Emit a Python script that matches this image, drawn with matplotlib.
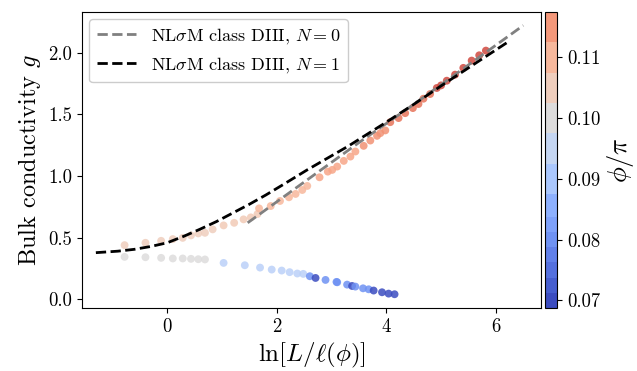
import numpy as np
import matplotlib
matplotlib.use("Agg")
import matplotlib.pyplot as plt
from matplotlib import cm
from matplotlib.colors import Normalize, BoundaryNorm, ListedColormap

plt.rcParams["font.family"] = "serif"
plt.rcParams["font.serif"] = ["cmr10"]
plt.rcParams["mathtext.fontset"] = "cm"
plt.rcParams["axes.unicode_minus"] = False
plt.rcParams["axes.formatter.use_mathtext"] = True

# ===== данные =====
# верхняя ветвь (phi/pi > 0.1)
x_up = [-0.776, -0.395, -0.109, 0.104, 0.285, 0.436, 0.569, 0.691, 0.831,
        1.031, 1.224, 1.395, 1.527, 1.649,
        1.678, 1.891, 2.06, 2.224, 2.345, 2.467, 2.558, 2.782, 2.933, 3.013,
        3.104, 3.224, 3.345, 3.436, 3.587, 3.709, 3.831, 3.891, 3.982,
        4.073, 4.224, 4.345, 4.485, 4.587, 4.678, 4.8, 4.922, 5.0, 5.104,
        5.255, 5.406, 5.558, 5.696, 5.818]
g_up = [0.439, 0.458, 0.474, 0.488, 0.498, 0.518, 0.534, 0.539, 0.567,
        0.599, 0.620, 0.648, 0.664, 0.691,
        0.737, 0.756, 0.797, 0.827, 0.854, 0.886, 0.919, 0.989, 1.035, 1.049,
        1.076, 1.122, 1.157, 1.198, 1.244, 1.287, 1.325, 1.347, 1.369,
        1.436, 1.469, 1.509, 1.550, 1.583, 1.626, 1.664, 1.713, 1.734, 1.772,
        1.821, 1.876, 1.935, 1.978, 2.016]
phi_up = [0.105] * 9 + [0.106] * 5 + [0.110] * 7 + [0.113] * 7 + [0.116] * 5 \
    + [0.120] * 7 + [0.125] * 8

# нижняя ветвь (phi/pi <= 0.1)
x_lo = [-0.776, -0.395, -0.109, 0.104, 0.285, 0.436, 0.569, 0.691,
        1.031, 1.418, 1.696, 1.909, 2.091, 2.236, 2.376, 2.485,
        2.605, 2.709, 2.891, 3.091, 3.104, 3.285, 3.376, 3.436, 3.576,
        3.678, 3.769, 3.922, 4.042, 4.151]
g_lo = [0.344, 0.341, 0.336, 0.331, 0.331, 0.328, 0.325, 0.323,
        0.295, 0.276, 0.257, 0.241, 0.233, 0.220, 0.209, 0.206,
        0.187, 0.173, 0.157, 0.141, 0.138, 0.119, 0.108, 0.103, 0.089,
        0.081, 0.071, 0.057, 0.046, 0.041]
phi_lo = [0.100] * 8 + [0.093] * 8 + [0.080, 0.070, 0.080, 0.080, 0.080,
                                      0.080, 0.070, 0.080, 0.080, 0.080,
                                      0.070, 0.070, 0.070, 0.070]

# NLsM, N = 0
x_n0 = [1.47, 2.5, 3.5, 4.5, 5.5, 6.5]
g_n0 = [0.62, 0.95, 1.27, 1.58, 1.90, 2.22]

# NLsM, N = 1
x_n1 = [-1.3, -0.9, -0.6, -0.3, 0.0, 0.3, 0.6, 0.9, 1.2, 1.5, 1.8, 2.1,
        2.56, 3.3, 3.98, 4.5, 5.0, 5.53, 6.2]
g_n1 = [0.378, 0.39, 0.405, 0.428, 0.458, 0.51, 0.568, 0.63, 0.70, 0.77,
        0.845, 0.925, 1.05, 1.24, 1.43, 1.58, 1.73, 1.885, 2.08]

# значения phi/pi для цветовой шкалы
phi_levels = [0.07, 0.0725, 0.075, 0.0775, 0.08, 0.0825, 0.085, 0.09, 0.095,
              0.10, 0.105, 0.11, 0.115]
phi_edges = [0.06875, 0.07125, 0.07375, 0.07625, 0.07875, 0.08125, 0.08375,
             0.0875, 0.0925, 0.0975, 0.1025, 0.1075, 0.1125, 0.1175]

# ===== график =====
norm = Normalize(vmin=0.07, vmax=0.13)
cmap = plt.get_cmap("coolwarm")

fig = plt.figure(figsize=(6.37, 3.71), dpi=100)
ax = fig.add_axes([0.129, 0.170, 0.720, 0.798])
cax = fig.add_axes([0.856, 0.170, 0.019, 0.798])

ax.scatter(x_lo, g_lo, c=phi_lo, cmap=cmap, norm=norm, s=32, alpha=0.85,
           edgecolors="none", zorder=2)
ax.scatter(x_up, g_up, c=phi_up, cmap=cmap, norm=norm, s=32, alpha=0.85,
           edgecolors="none", zorder=2)
ax.plot(x_n0, g_n0, "--", color="gray", lw=2,
        label=r"NL$\sigma$M class DIII, $N=0$", zorder=3)
ax.plot(x_n1, g_n1, "--", color="black", lw=2,
        label=r"NL$\sigma$M class DIII, $N=1$", zorder=3)

ax.set_xlim(-1.55, 6.82)
ax.set_ylim(-0.07, 2.33)
ax.set_xticks([0, 2, 4, 6])
ax.set_yticks([0.0, 0.5, 1.0, 1.5, 2.0])
ax.set_yticklabels(["0.0", "0.5", "1.0", "1.5", "2.0"])
ax.tick_params(labelsize=13.5)
ax.set_xlabel(r"$\ln[L/\ell(\phi)]$", fontsize=18)
ax.set_ylabel(r"Bulk conductivity $g$", fontsize=17.5)
ax.legend(loc="upper left", fontsize=13, handlelength=2.2,
          edgecolor="0.8", framealpha=1, borderaxespad=0.4)

# дискретная цветовая шкала
band_colors = ListedColormap([cmap(norm(p)) for p in phi_levels])
sm = cm.ScalarMappable(norm=BoundaryNorm(phi_edges, len(phi_levels)),
                       cmap=band_colors)
cb = fig.colorbar(sm, cax=cax, spacing="proportional",
                  ticks=[0.07, 0.08, 0.09, 0.10, 0.11])
cb.ax.minorticks_off()
cb.ax.set_yticklabels(["0.07", "0.08", "0.09", "0.10", "0.11"])
cb.ax.tick_params(labelsize=13.5)
cb.set_label(r"$\phi/\pi$", fontsize=19, labelpad=3)

fig.savefig("out.png", dpi=100)
